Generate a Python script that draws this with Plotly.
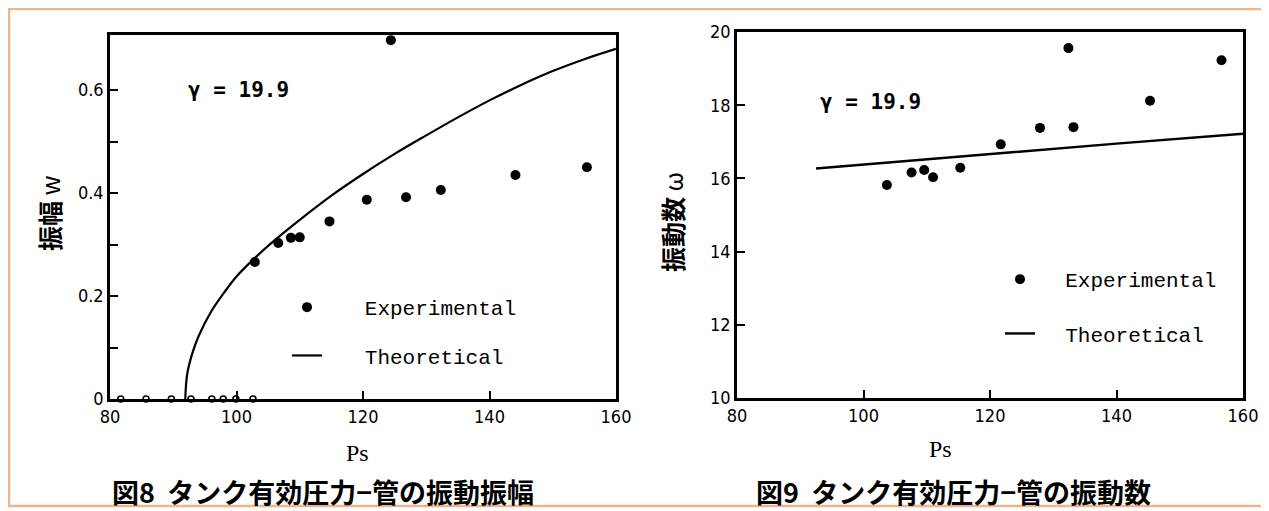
import plotly.graph_objects as go

# The page adds an 8 px body margin, so the figure is drawn 8 px smaller
# and all layout positions are given in page pixels through px()/py().
OFF = 8
W, H = 1269 - OFF, 511 - OFF

# ---------- Data: Fig. 8 (amplitude) ----------
amp_exp_ps = [102.9, 106.6, 108.6, 110.0, 114.7, 120.6, 124.4, 126.8, 132.3, 144.1, 155.4]
amp_exp_w = [0.266, 0.303, 0.313, 0.314, 0.345, 0.387, 0.697, 0.392, 0.406, 0.435, 0.450]
amp_zero_ps = [81.7, 85.7, 89.7, 92.8, 96.1, 97.9, 99.9, 102.6]
amp_zero_w = [0, 0, 0, 0, 0, 0, 0, 0]
amp_th_ps = [91.9, 92.2, 93.0, 94.0, 96.0, 98.0, 100.0, 103.0, 106.0, 110.0, 115.0,
             120.0, 125.0, 130.0, 135.0, 140.0, 145.0, 150.0, 155.0, 160.0]
amp_th_w = [0.0, 0.048, 0.088, 0.122, 0.17, 0.206, 0.238, 0.275, 0.308, 0.348, 0.395,
            0.437, 0.476, 0.512, 0.547, 0.58, 0.61, 0.637, 0.66, 0.68]

# ---------- Data: Fig. 9 (frequency) ----------
frq_exp_ps = [103.7, 107.6, 109.6, 111.0, 115.3, 121.7, 127.9, 132.4, 133.2, 145.3, 156.6]
frq_exp_w = [15.82, 16.16, 16.23, 16.03, 16.29, 16.93, 17.38, 19.56, 17.40, 18.12, 19.23]
frq_th_ps = [92.5, 100.0, 120.0, 140.0, 160.0]
frq_th_w = [16.27, 16.38, 16.67, 16.95, 17.22]

x_ticks = [80, 100, 120, 140, 160]
amp_y_ticks = [0, 0.1, 0.2, 0.3, 0.4, 0.5, 0.6]
amp_y_text = ["0", "", "0.2", "", "0.4", "", "0.6"]
frq_y_ticks = [10, 12, 14, 16, 18, 20]


def px(x):
    return (x - OFF) / W


def py(y):
    return 1 - (y - OFF) / H


TICKFONT = dict(family="Liberation Sans Narrow, DejaVu Sans Condensed, DejaVu Sans",
                size=18, color="black")
LEGFONT = dict(family="Liberation Mono", size=21, color="black")
GAMMAFONT = dict(family="DejaVu Sans Mono", size=21, color="black")
NB = "\u00a0"

fig = go.Figure()

# Fig 8 traces
fig.add_trace(go.Scatter(x=amp_zero_ps, y=amp_zero_w, mode="markers",
                         marker=dict(symbol="circle-open", size=6, color="black",
                                     line=dict(width=1.6)),
                         showlegend=False, cliponaxis=False, xaxis="x", yaxis="y"))
fig.add_trace(go.Scatter(x=amp_exp_ps, y=amp_exp_w, mode="markers",
                         name=NB * 3 + "Experimental", legendgroup="e1",
                         marker=dict(size=10, color="black"),
                         cliponaxis=False, xaxis="x", yaxis="y", legend="legend"))
fig.add_trace(go.Scatter(x=amp_th_ps, y=amp_th_w, mode="lines",
                         name=NB * 3 + "Theoretical", legendgroup="t1",
                         line=dict(color="black", width=2.2, shape="spline"),
                         xaxis="x", yaxis="y", legend="legend"))

# Fig 9 traces
fig.add_trace(go.Scatter(x=frq_exp_ps, y=frq_exp_w, mode="markers",
                         name=NB * 2 + "Experimental", legendgroup="e2",
                         marker=dict(size=10, color="black"),
                         cliponaxis=False, xaxis="x2", yaxis="y2", legend="legend2"))
fig.add_trace(go.Scatter(x=frq_th_ps, y=frq_th_w, mode="lines",
                         name=NB * 2 + "Theoretical", legendgroup="t2",
                         line=dict(color="black", width=2.4),
                         xaxis="x2", yaxis="y2", legend="legend2"))

axis_common = dict(showline=True, mirror=True, linecolor="black", linewidth=2.5,
                   ticks="inside", ticklen=8, tickwidth=2, tickcolor="black",
                   showgrid=False, zeroline=False, tickfont=TICKFONT)

fig.update_layout(
    width=W, height=H,
    margin=dict(l=0, r=0, t=0, b=0, autoexpand=False),
    paper_bgcolor="white", plot_bgcolor="white",
    xaxis=dict(domain=[px(110), px(616)], range=[80, 160], tickvals=x_ticks,
               anchor="y", **axis_common),
    yaxis=dict(domain=[py(399), py(35)], range=[0, 0.707], tickvals=amp_y_ticks,
               ticktext=amp_y_text, anchor="x", **axis_common),
    xaxis2=dict(domain=[px(737), px(1243)], range=[80, 160], tickvals=x_ticks,
                anchor="y2", **axis_common),
    yaxis2=dict(domain=[py(398), py(32)], range=[10, 20], tickvals=frq_y_ticks,
                anchor="x2", **axis_common),
    legend=dict(x=px(287), y=py(287), xanchor="left", yanchor="top",
                bgcolor="rgba(0,0,0,0)", font=LEGFONT, tracegroupgap=18,
                traceorder="grouped"),
    legend2=dict(x=px(1000), y=py(259), xanchor="left", yanchor="top",
                 bgcolor="rgba(0,0,0,0)", font=LEGFONT, tracegroupgap=24,
                 traceorder="grouped"),
    showlegend=True,
)

ann = []
# gamma labels
ann.append(dict(x=92, y=0.6, xref="x", yref="y", text="<b>γ = 19.9</b>", showarrow=False,
                xanchor="left", yanchor="middle", font=GAMMAFONT))
ann.append(dict(x=92.8, y=18.1, xref="x2", yref="y2", text="<b>γ = 19.9</b>", showarrow=False,
                xanchor="left", yanchor="middle", font=GAMMAFONT))
# axis titles
ann.append(dict(x=px(357), y=py(453), xref="paper", yref="paper", text="Ps", showarrow=False,
                xanchor="center", yanchor="middle",
                font=dict(family="Liberation Serif", size=24, color="black")))
ann.append(dict(x=px(940), y=py(449), xref="paper", yref="paper", text="Ps", showarrow=False,
                xanchor="center", yanchor="middle",
                font=dict(family="Liberation Serif", size=24, color="black")))
ann.append(dict(x=px(49), y=py(213), xref="paper", yref="paper", text="<b>振幅</b> w",
                textangle=-90, showarrow=False, xanchor="center", yanchor="middle",
                font=dict(family="Noto Sans CJK JP", size=25, color="black")))
ann.append(dict(x=px(672), y=py(222), xref="paper", yref="paper", text="<b>振動数</b> ω",
                textangle=-90, showarrow=False, xanchor="center", yanchor="middle",
                font=dict(family="Noto Sans CJK JP", size=25, color="black")))
# captions
ann.append(dict(x=px(110), y=py(491), xref="paper", yref="paper",
                text="<b>図8  タンク有効圧力−管の振動振幅</b>", showarrow=False,
                xanchor="left", yanchor="middle",
                font=dict(family="Noto Sans CJK JP", size=27, color="black")))
ann.append(dict(x=px(754), y=py(491), xref="paper", yref="paper",
                text="<b>図9  タンク有効圧力−管の振動数</b>", showarrow=False,
                xanchor="left", yanchor="middle",
                font=dict(family="Noto Sans CJK JP", size=27, color="black")))
fig.update_layout(annotations=ann)

# page frame (orange border of the scan)
fig.add_shape(type="rect", xref="paper", yref="paper",
              x0=px(9), x1=px(1300), y0=py(506), y1=py(9),
              line=dict(color="#EFB48A", width=2.5), layer="below")

fig.write_html("out.html")
